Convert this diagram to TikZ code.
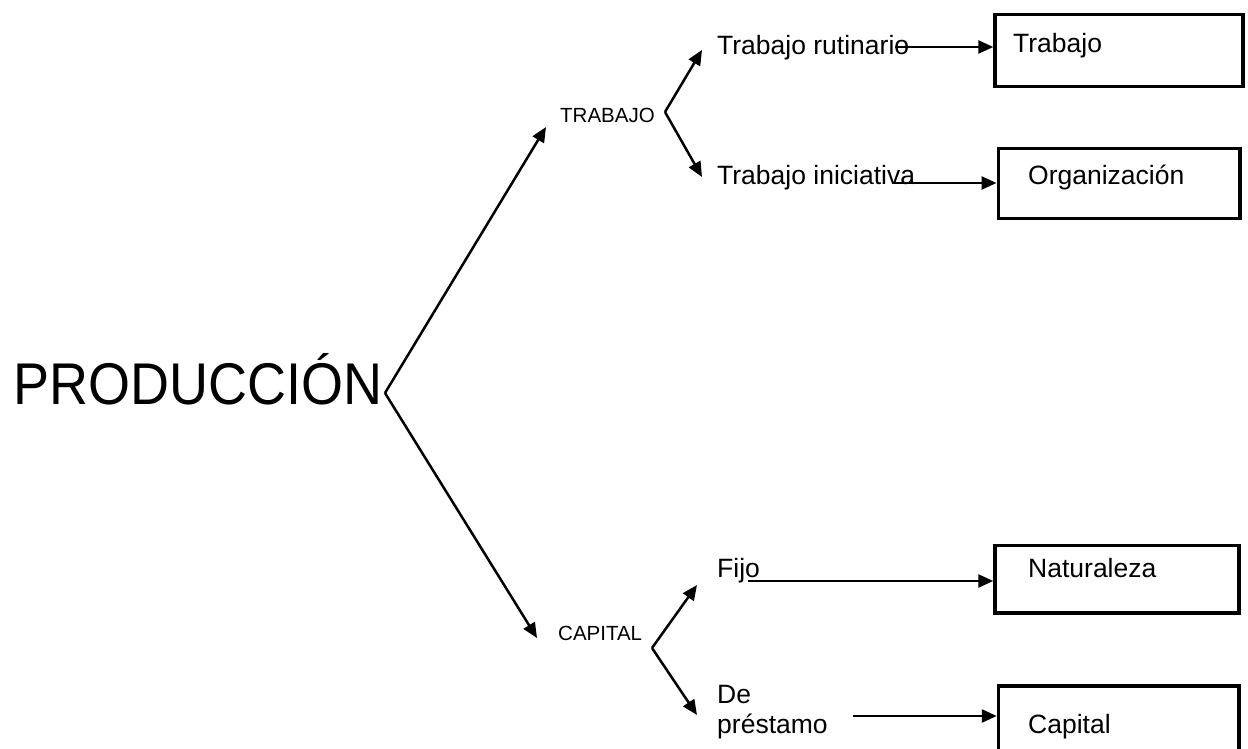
\documentclass[tikz,border=0pt]{standalone}
\usepackage{fontspec}
\setmainfont{Liberation Sans}
\usetikzlibrary{arrows.meta}
\begin{document}
\begin{tikzpicture}[x=1pt,y=-1pt,
  txt/.style={anchor=base west,inner sep=0pt,font=\fontsize{26.5}{30}\selectfont,align=left},
  small/.style={anchor=base west,inner sep=0pt,font=\fontsize{20.5}{24}\selectfont},
  big/.style={anchor=base west,inner sep=0pt,font=\fontsize{54}{60}\selectfont},
  box/.style={draw,line width=3.5pt,inner sep=0pt},
  conn/.style={line width=2.5pt},
  arr/.style={conn,-{Triangle[length=15pt,width=13pt]}}]
\useasboundingbox (0,0) rectangle (1248,749);

% main title and category labels
\node[big] (prod) at (13,404) {\scalebox{1}[1.09]{PRODUCCIÓN}};
\node[small] (trab) at (560,123) {TRABAJO};
\node[small] (cap) at (558,640) {CAPITAL};

% second-level labels
\node[txt] (rut) at (717,55) {Trabajo rutinario};
\node[txt] (ini) at (717,185) {Trabajo iniciativa};
\node[txt] (fijo) at (717,577) {Fijo};
\node[txt] (pres) at (717,733) {De\\préstamo};

% boxes
\node[box,minimum width=248pt,minimum height=72pt] (bT) at (1119,50.5) {};
\node[box,minimum width=241.5pt,minimum height=70pt] (bO) at (1119,183.5) {};
\node[box,minimum width=244pt,minimum height=67.5pt] (bN) at (1117,579) {};
\node[box,minimum width=240.5pt,minimum height=65pt] (bC) at (1118.75,718.5) {};
\node[txt] (tT) at (1013,53) {Trabajo};
\node[txt] (tO) at (1028,185) {Organización};
\node[txt] (tN) at (1028,577) {Naturaleza};
\node[txt] (tC) at (1028,733) {Capital};

% branch points and arrow ends
\coordinate (v0) at (385,393);
\coordinate (a0) at (546,127);
\coordinate (b0) at (537,638);
\coordinate (v1) at (665,112);
\coordinate (a1) at (702,50);
\coordinate (b1) at (702,177);
\coordinate (v2) at (652,648);
\coordinate (a2) at (697,585);
\coordinate (b2) at (697,715);
\coordinate (sR) at (895,47);
\coordinate (sI) at (893,183);
\coordinate (sF) at (748,581);
\coordinate (sP) at (853,716);

% connectors
\draw[arr] (v0) -- (a0);
\draw[arr] (v0) -- (b0);
\draw[arr] (v1) -- (a1);
\draw[arr] (v1) -- (b1);
\draw[arr] (v2) -- (a2);
\draw[arr] (v2) -- (b2);
\draw[arr] (sR) -- (sR -| bT.west);
\draw[arr] (sI) -- (sI -| bO.west);
\draw[arr] (sF) -- (sF -| bN.west);
\draw[arr] (sP) -- (sP -| bC.west);
\end{tikzpicture}
\end{document}
